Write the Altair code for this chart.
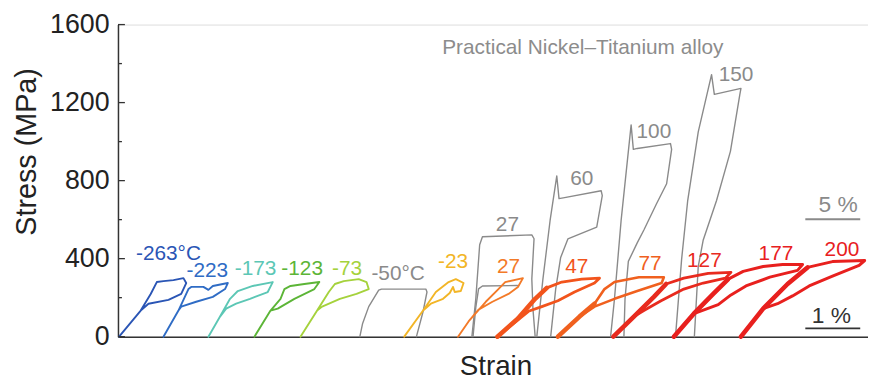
import altair as alt
import pandas as pd

FONT = "Liberation Sans"

# ---- hysteresis loops: strain (%) and stress (MPa) ----
l263_x = [0.02, 0.41, 0.59, 0.70, 0.82, 1.00, 1.18, 1.23, 1.14, 0.91, 0.55, 0.41, 0.02]
l263_y = [0, 134, 219, 280, 285, 290, 300, 275, 219, 189, 169, 134, 0]

l223_x = [0.82, 1.09, 1.27, 1.32, 1.54, 1.63, 1.71, 1.98, 1.93, 1.71, 1.41, 1.14, 1.09, 0.82]
l223_y = [0, 134, 244, 255, 255, 240, 260, 275, 244, 204, 179, 154, 134, 0]

l173_x = [1.63, 1.84, 2.02, 2.16, 2.43, 2.79, 2.70, 2.38, 2.13, 1.95, 1.84, 1.63]
l173_y = [0, 103, 194, 234, 260, 280, 229, 194, 169, 144, 103, 0]

l123_x = [2.46, 2.75, 2.93, 3.00, 3.11, 3.36, 3.63, 3.54, 3.18, 2.88, 2.75, 2.46]
l123_y = [0, 134, 194, 244, 260, 270, 280, 244, 194, 144, 134, 0]

l73_x = [3.29, 3.59, 3.80, 3.91, 4.07, 4.34, 4.48, 4.52, 4.30, 4.00, 3.68, 3.59, 3.29]
l73_y = [0, 134, 229, 270, 285, 295, 280, 244, 219, 194, 154, 134, 0]

g50_x = [4.36, 4.41, 4.52, 4.70, 4.75, 5.55, 5.57, 5.50, 5.38]
g50_y = [0, 68, 154, 239, 244, 244, 229, 129, 0]

l23_x = [5.16, 5.50, 5.73, 5.96, 6.09, 6.23, 6.18, 6.07, 6.04, 5.98, 5.86, 5.64, 5.50, 5.16]
l23_y = [0, 134, 229, 280, 295, 275, 234, 229, 255, 224, 194, 169, 134, 0]

g27_x = [6.38, 6.45, 6.52, 6.57, 7.46, 7.50, 7.46, 7.48, 7.52]
g27_y = [0, 194, 471, 512, 522, 502, 295, 144, 0]

g27s_x = [6.40, 6.45, 6.50, 6.57, 7.20]
g27s_y = [0, 150, 245, 260, 262]

o27_x = [6.13, 6.32, 6.63, 6.84, 6.98, 7.30, 7.21, 7.04, 6.75, 6.50, 6.32, 6.13]
o27_y = [0, 78, 179, 239, 280, 300, 255, 219, 179, 139, 78, 0]

r47_x = [6.84, 7.21, 7.52, 7.73, 8.00, 8.36, 8.68, 8.59, 8.23, 7.93, 7.64, 7.40, 6.84]
r47_y = [0, 93, 194, 250, 280, 295, 300, 275, 229, 184, 154, 130, 0]

g60_x = [7.55, 7.66, 7.79, 7.91, 7.95, 8.05, 8.71, 8.73, 8.63, 8.11, 7.98, 7.89, 7.80]
g60_y = [0, 295, 597, 824, 708, 713, 748, 723, 562, 501, 406, 244, 0]

o77_x = [7.93, 8.32, 8.59, 8.77, 8.95, 9.39, 9.84, 9.80, 9.36, 8.95, 8.59, 8.32, 7.93]
o77_y = [0, 103, 169, 244, 280, 305, 305, 275, 234, 194, 154, 103, 0]

g100_x = [8.88, 8.95, 9.07, 9.25, 9.29, 9.36, 9.96, 9.98, 9.89, 9.71, 9.48, 9.36, 9.20, 9.14, 9.12]
g100_y = [0, 194, 597, 1086, 960, 965, 990, 960, 784, 683, 547, 481, 386, 194, 0]

r127_x = [8.93, 9.30, 9.66, 9.88, 10.20, 10.64, 11.05, 10.95, 10.55, 10.20, 9.79, 9.48, 9.30, 8.93]
r127_y = [0, 103, 204, 270, 300, 325, 330, 300, 275, 244, 184, 134, 103, 0]

g150_x = [10.05, 10.16, 10.27, 10.46, 10.70, 10.75, 11.23, 11.21, 11.04, 10.79, 10.55, 10.46, 10.39]
g150_y = [0, 396, 698, 1050, 1343, 1242, 1273, 1242, 950, 698, 496, 360, 0]

r177_x = [10.02, 10.38, 10.73, 11.00, 11.27, 11.63, 11.98, 12.34, 12.25, 11.75, 11.32, 11.05, 10.82, 10.38, 10.02]
r177_y = [0, 118, 219, 295, 335, 360, 370, 370, 340, 305, 260, 214, 164, 118, 0]

r200_x = [11.23, 11.63, 12.07, 12.43, 12.88, 13.46, 13.36, 12.88, 12.46, 12.16, 11.89, 11.63, 11.23]
r200_y = [0, 144, 270, 355, 385, 390, 365, 310, 260, 209, 169, 144, 0]

GRAY = "#8a8a8a"
loops = [
    ("-263", l263_x, l263_y, "#2a55b5", 1.9),
    ("-223", l223_x, l223_y, "#2f6cc5", 1.9),
    ("-173", l173_x, l173_y, "#5cc7b5", 1.9),
    ("-123", l123_x, l123_y, "#5cb537", 1.9),
    ("-73", l73_x, l73_y, "#a5d23c", 1.9),
    ("g-50", g50_x, g50_y, GRAY, 1.4),
    ("-23", l23_x, l23_y, "#f2b526", 1.9),
    ("g27", g27_x, g27_y, GRAY, 1.4),
    ("g27s", g27s_x, g27s_y, GRAY, 1.4),
    ("g60", g60_x, g60_y, GRAY, 1.4),
    ("g100", g100_x, g100_y, GRAY, 1.4),
    ("g150", g150_x, g150_y, GRAY, 1.4),
    ("27", o27_x, o27_y, "#f37a28", 1.9),
    ("47", r47_x, r47_y, "#f2541c", 2.8),
    ("77", o77_x, o77_y, "#f0601e", 2.6),
    ("127", r127_x, r127_y, "#e82a1e", 2.8),
    ("177", r177_x, r177_y, "#e8201e", 3.0),
    ("200", r200_x, r200_y, "#e8201e", 3.0),
]
# heavy loading branches (first points of the thick red/orange loops)
heavy = [("47", r47_x, r47_y, "#f2541c", 4), ("77", o77_x, o77_y, "#f0601e", 3),
         ("127", r127_x, r127_y, "#e82a1e", 4), ("177", r177_x, r177_y, "#e8201e", 4),
         ("200", r200_x, r200_y, "#e8201e", 4)]

rows = []
for name, xs_, ys_, col, w in loops:
    for i, (a, b) in enumerate(zip(xs_, ys_)):
        rows.append({"loop": name, "i": i, "strain": a, "stress": b, "col": col, "w": w})
for name, xs_, ys_, col, n in heavy:
    for i, (a, b) in enumerate(zip(xs_[:n], ys_[:n])):
        rows.append({"loop": name + "h", "i": i, "strain": a, "stress": b, "col": col, "w": 4.6})
df = pd.DataFrame(rows)

# ---- labels ----
lab_text = ["-263°C", "-223", "-173", "-123", "-73", "-50°C", "-23", "27", "27", "47",
            "60", "100", "150", "77", "127", "177", "200"]
lab_x = [0.91, 1.61, 2.48, 3.32, 4.13, 5.05, 6.04, 7.02, 7.04, 8.27, 8.36, 9.66, 11.14, 9.59, 10.57, 11.86, 13.05]
lab_y = [421, 335, 345, 345, 345, 320, 380, 572, 355, 355, 809, 1051, 1343, 370, 386, 421, 446]
lab_c = ["#2a55b5", "#2f6cc5", "#5cc7b5", "#5cb537", "#a5d23c", GRAY, "#f2b526", GRAY, "#f37a28",
         "#f2541c", GRAY, GRAY, GRAY, "#f0601e", "#e82a1e", "#e8201e", "#e8201e"]
labels = pd.DataFrame({"t": lab_text, "strain": lab_x, "stress": lab_y, "col": lab_c})

note = pd.DataFrame({"t": ["Practical Nickel–Titanium alloy"], "strain": [8.38], "stress": [1479]})

bar_text = ["5 %", "1 %"]
bar_tx = [12.98, 12.86]
bar_ty = [673, 108]
bar_x1 = [12.39, 12.39]
bar_x2 = [13.38, 13.38]
bar_y = [602, 43]
bar_c = [GRAY, "#333333"]
bars = pd.DataFrame({"t": bar_text, "tx": bar_tx, "ty": bar_ty, "x1": bar_x1, "x2": bar_x2,
                     "y": bar_y, "col": bar_c})

major = [0, 400, 800, 1200, 1600]
minor = [200, 600, 1000, 1400]

xs = alt.Scale(domain=[0, 13.52], nice=False, zero=False)
ys = alt.Scale(domain=[0, 1600], nice=False)

xax = alt.Axis(labels=False, ticks=False, grid=False, domainColor="#333", domainWidth=1.5,
               title="Strain", titleFont=FONT, titleFontSize=28, titleFontWeight="normal",
               titleColor="#222", titleX=381, titleY=30, titleBaseline="middle")
yax = alt.Axis(values=major, format="d", ticks=False, grid=False, domainColor="#333", domainWidth=1.5,
               labelFont=FONT, labelFontSize=27, labelColor="#222", labelPadding=9,
               labelOverlap=False, title="Stress (MPa)", titleFont=FONT, titleFontSize=29,
               titleFontWeight="normal", titleColor="#222", titleX=-77, titleY=128,
               titleAlign="center", titleBaseline="bottom", titleAngle=-90)

lines = alt.Chart(df).mark_line(strokeJoin="round", strokeCap="round", clip=False).encode(
    x=alt.X("strain:Q", scale=xs, axis=xax),
    y=alt.Y("stress:Q", scale=ys, axis=yax),
    detail="loop:N",
    order="i:Q",
    color=alt.Color("col:N", scale=None),
    strokeWidth=alt.StrokeWidth("w:Q", scale=None),
)

text = alt.Chart(labels).mark_text(font=FONT, fontSize=21, baseline="middle").encode(
    x=alt.X("strain:Q", scale=xs), y=alt.Y("stress:Q", scale=ys),
    text="t:N", color=alt.Color("col:N", scale=None))

note_t = alt.Chart(note).mark_text(font=FONT, fontSize=21, baseline="middle", color="#8c8c8c").encode(
    x=alt.X("strain:Q", scale=xs), y=alt.Y("stress:Q", scale=ys), text="t:N")

bar_r = alt.Chart(bars).mark_rule(strokeWidth=1.8).encode(
    x=alt.X("x1:Q", scale=xs), x2="x2:Q", y=alt.Y("y:Q", scale=ys),
    color=alt.Color("col:N", scale=None))
bar_t = alt.Chart(bars).mark_text(font=FONT, fontSize=23, baseline="middle").encode(
    x=alt.X("tx:Q", scale=xs), y=alt.Y("ty:Q", scale=ys), text="t:N",
    color=alt.Color("col:N", scale=None))

tick_major = alt.Chart(pd.DataFrame({"v": major})).mark_rule(color="#333", strokeWidth=1.3).encode(
    y=alt.Y("v:Q", scale=ys), x=alt.value(0), x2=alt.value(7))
tick_minor = alt.Chart(pd.DataFrame({"v": minor})).mark_rule(color="#333", strokeWidth=1.3).encode(
    y=alt.Y("v:Q", scale=ys), x=alt.value(0), x2=alt.value(4))

chart = alt.layer(lines, tick_major, tick_minor, bar_r, bar_t, text, note_t).properties(
    width=757, height=315,
    autosize=alt.AutoSizeParams(type="none"),
    padding={"left": 111, "top": 15, "right": 0, "bottom": 42},
).configure_view(stroke=None).configure(background="white")

chart.save("out.html", embed_options={"renderer": "svg", "actions": False})
